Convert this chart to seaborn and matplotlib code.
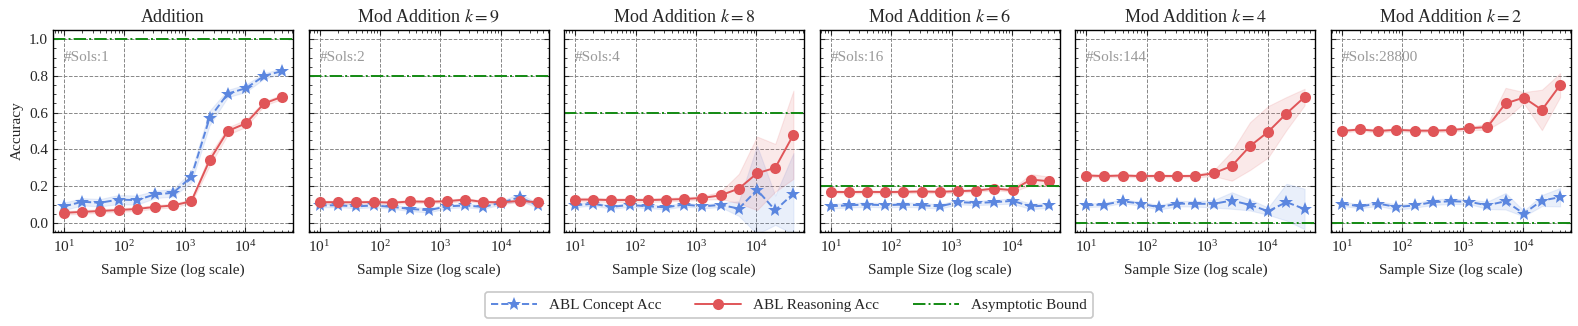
import numpy as np
import pandas as pd
import matplotlib
matplotlib.use("Agg")
import matplotlib.pyplot as plt
import seaborn as sns
from matplotlib.ticker import LogLocator, AutoMinorLocator, NullFormatter

# ---------------- data ----------------
sample_sizes = [10, 20, 40, 80, 160, 320, 640, 1280, 2560, 5120, 10240, 20480, 40960]

titles = ["Addition", "Mod Addition $k=9$", "Mod Addition $k=8$",
          "Mod Addition $k=6$", "Mod Addition $k=4$", "Mod Addition $k=2$"]
num_sols = ["1", "2", "4", "16", "144", "28800"]
bounds = [1.0, 0.8, 0.6, 0.2, 0.0, 0.0]

concept_add = [0.09, 0.115, 0.11, 0.127, 0.124, 0.155, 0.164, 0.25, 0.57, 0.704, 0.733, 0.80, 0.827]
concept_k9 = [0.095, 0.096, 0.09, 0.095, 0.087, 0.076, 0.069, 0.09, 0.095, 0.087, 0.11, 0.14, 0.095]
concept_k8 = [0.096, 0.104, 0.087, 0.098, 0.09, 0.085, 0.10, 0.09, 0.098, 0.078, 0.18, 0.069, 0.16]
concept_k6 = [0.091, 0.096, 0.10, 0.096, 0.10, 0.096, 0.09, 0.113, 0.109, 0.113, 0.12, 0.09, 0.095]
concept_k4 = [0.096, 0.10, 0.118, 0.105, 0.085, 0.105, 0.104, 0.104, 0.122, 0.098, 0.064, 0.113, 0.076]
concept_k2 = [0.105, 0.09, 0.105, 0.087, 0.095, 0.113, 0.118, 0.115, 0.096, 0.118, 0.051, 0.122, 0.14]

reason_add = [0.055, 0.06, 0.065, 0.07, 0.076, 0.087, 0.095, 0.118, 0.34, 0.50, 0.542, 0.65, 0.687]
reason_k9 = [0.113, 0.113, 0.112, 0.114, 0.11, 0.117, 0.115, 0.118, 0.127, 0.114, 0.112, 0.12, 0.112]
reason_k8 = [0.127, 0.127, 0.124, 0.125, 0.124, 0.127, 0.13, 0.136, 0.15, 0.187, 0.27, 0.30, 0.48]
reason_k6 = [0.169, 0.168, 0.169, 0.168, 0.169, 0.171, 0.169, 0.173, 0.176, 0.187, 0.178, 0.236, 0.227]
reason_k4 = [0.258, 0.255, 0.258, 0.255, 0.256, 0.255, 0.256, 0.27, 0.31, 0.418, 0.496, 0.595, 0.685]
reason_k2 = [0.50, 0.509, 0.50, 0.507, 0.502, 0.502, 0.505, 0.515, 0.522, 0.65, 0.682, 0.615, 0.75]

concept_std_add = [0.02, 0.02, 0.02, 0.025, 0.025, 0.02, 0.02, 0.03, 0.04, 0.02, 0.02, 0.015, 0.015]
concept_std_k9 = [0.01, 0.01, 0.01, 0.01, 0.01, 0.012, 0.012, 0.01, 0.01, 0.01, 0.01, 0.02, 0.012]
concept_std_k8 = [0.01, 0.01, 0.01, 0.01, 0.01, 0.01, 0.01, 0.01, 0.012, 0.04, 0.24, 0.08, 0.22]
concept_std_k6 = [0.012, 0.012, 0.012, 0.012, 0.012, 0.012, 0.012, 0.012, 0.012, 0.012, 0.015, 0.015, 0.012]
concept_std_k4 = [0.01, 0.01, 0.01, 0.012, 0.012, 0.015, 0.015, 0.02, 0.045, 0.03, 0.02, 0.10, 0.11]
concept_std_k2 = [0.012, 0.01, 0.012, 0.015, 0.012, 0.015, 0.015, 0.012, 0.02, 0.045, 0.015, 0.03, 0.05]

reason_std_add = [0.01, 0.01, 0.01, 0.01, 0.01, 0.01, 0.01, 0.01, 0.03, 0.02, 0.02, 0.012, 0.012]
reason_std_k9 = [0.008] * 13
reason_std_k8 = [0.01, 0.01, 0.01, 0.01, 0.01, 0.01, 0.01, 0.01, 0.02, 0.08, 0.20, 0.13, 0.24]
reason_std_k6 = [0.008, 0.008, 0.008, 0.008, 0.008, 0.008, 0.008, 0.008, 0.008, 0.008, 0.01, 0.03, 0.025]
reason_std_k4 = [0.008, 0.008, 0.008, 0.008, 0.008, 0.008, 0.008, 0.015, 0.08, 0.13, 0.14, 0.09, 0.045]
reason_std_k2 = [0.008, 0.008, 0.008, 0.008, 0.008, 0.008, 0.008, 0.01, 0.015, 0.085, 0.03, 0.11, 0.065]

concepts = [concept_add, concept_k9, concept_k8, concept_k6, concept_k4, concept_k2]
reasons = [reason_add, reason_k9, reason_k8, reason_k6, reason_k4, reason_k2]
concept_stds = [concept_std_add, concept_std_k9, concept_std_k8, concept_std_k6, concept_std_k4, concept_std_k2]
reason_stds = [reason_std_add, reason_std_k9, reason_std_k8, reason_std_k6, reason_std_k4, reason_std_k2]

# ---------------- style ----------------
sns.set_style("ticks")
plt.rcParams.update({
    "font.family": ["Liberation Serif", "DejaVu Serif"],
    "mathtext.fontset": "stix",
    "xtick.direction": "in", "ytick.direction": "in",
    "xtick.top": True, "ytick.right": True,
    "xtick.minor.visible": True, "ytick.minor.visible": True,
    "xtick.major.size": 3.5, "ytick.major.size": 3.5,
    "xtick.minor.size": 1.8, "ytick.minor.size": 1.8,
    "xtick.major.pad": 5,
    "axes.linewidth": 1.0,
    "axes.edgecolor": "black",
})

BLUE = "#5B86DF"
RED = "#E05558"
GREEN = "#138A13"

fig, axes = plt.subplots(1, 6, figsize=(15.78, 3.26), dpi=100, sharey=False)
fig.subplots_adjust(left=0.0336, right=0.9956, top=0.908, bottom=0.288, wspace=0.064)

for i, ax in enumerate(axes):
    df = pd.DataFrame({"n": sample_sizes, "concept": concepts[i], "reason": reasons[i],
                       "cstd": concept_stds[i], "rstd": reason_stds[i]})
    ax.fill_between(df["n"], df["concept"] - df["cstd"], df["concept"] + df["cstd"],
                    color=BLUE, alpha=0.13, linewidth=0.8)
    ax.fill_between(df["n"], df["reason"] - df["rstd"], df["reason"] + df["rstd"],
                    color=RED, alpha=0.13, linewidth=0.8)
    sns.lineplot(data=df, x="n", y="concept", ax=ax, color=BLUE, marker="*",
                 markersize=10, markeredgewidth=0, linestyle="--", linewidth=1.4,
                 label="ABL Concept Acc", errorbar=None, legend=False)
    sns.lineplot(data=df, x="n", y="reason", ax=ax, color=RED, marker="o",
                 markersize=8, markeredgewidth=0, linestyle="-", linewidth=1.4,
                 label="ABL Reasoning Acc", errorbar=None, legend=False)
    ax.axhline(bounds[i], color=GREEN, linestyle="-.", linewidth=1.4, label="Asymptotic Bound")
    ax.set_xscale("log")
    ax.set_ylim(-0.05, 1.05)
    ax.set_yticks([0.0, 0.2, 0.4, 0.6, 0.8, 1.0])
    ax.yaxis.set_minor_locator(AutoMinorLocator(4))
    ax.xaxis.set_major_locator(LogLocator(base=10, numticks=10))
    ax.xaxis.set_minor_locator(LogLocator(base=10, subs=np.arange(2, 10), numticks=20))
    ax.xaxis.set_minor_formatter(NullFormatter())
    ax.grid(True, which="major", linestyle="--", color="#888888", linewidth=0.7)
    ax.set_title(titles[i], fontsize=13)
    ax.set_xlabel("Sample Size (log scale)", fontsize=11, labelpad=6)
    if i == 0:
        ax.set_ylabel("Accuracy", fontsize=11)
        ax.set_yticklabels(["0.0", "0.2", "0.4", "0.6", "0.8", "1.0"])
    else:
        ax.set_ylabel("")
        ax.set_yticklabels([])
    ax.tick_params(axis="both", which="major", labelsize=11)
    ax.text(0.045, 0.865, "#Sols:" + num_sols[i], transform=ax.transAxes,
            color="#999999", fontsize=11, va="center", ha="left")

handles, labels = axes[0].get_legend_handles_labels()
leg = fig.legend(handles, labels, loc="center", bbox_to_anchor=(0.5, 0.064), ncol=3,
                 fontsize=11, frameon=True, fancybox=True, edgecolor="#BBBBBB",
                 handlelength=3.0, columnspacing=2.2, borderpad=0.4)
leg.get_frame().set_linewidth(1.2)

fig.savefig("out.png", dpi=100)
